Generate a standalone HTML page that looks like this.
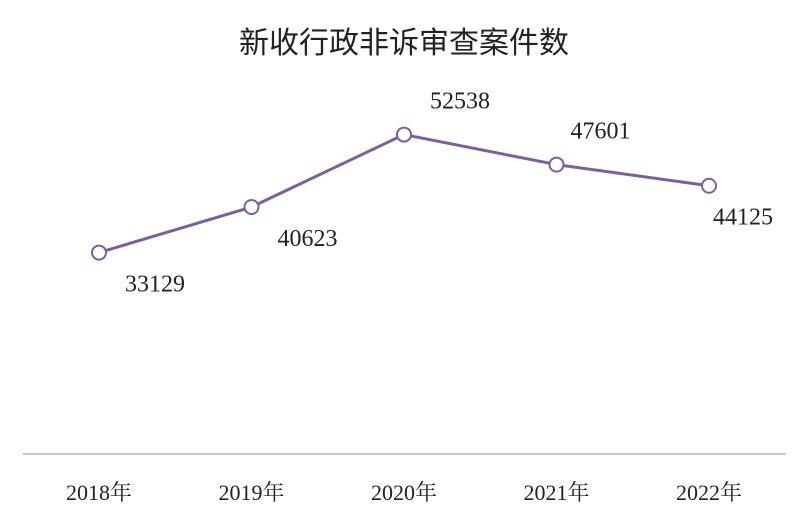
<!DOCTYPE html>
<html><head><meta charset="utf-8"><style>
html,body{margin:0;padding:0;background:#fff;}
svg{display:block;}
</style></head><body>
<svg width="809" height="529" viewBox="0 0 809 529">
<text x="404" y="53" text-anchor="middle" font-family="'Liberation Sans','Noto Sans CJK SC',sans-serif" font-size="30" fill="#222">新收行政非诉审查案件数</text>
<line x1="23" y1="454" x2="786" y2="454" stroke="#a6a6a6" stroke-width="1.2"/>
<g id="plot"></g>
</svg>
<script>
const categories = ["2018年","2019年","2020年","2021年","2022年"];
const values = [33129, 40623, 52538, 47601, 44125];
const labelAbove = [false, false, true, true, false];

const NS = "http://www.w3.org/2000/svg";
const g = document.getElementById("plot");
function xScale(i){ return 99 + i * 152.5; }
function yScale(v){ return 454 - v * 0.006080; }
function mk(tag, attrs){ const e=document.createElementNS(NS,tag); for(const k in attrs) e.setAttribute(k, attrs[k]); g.appendChild(e); return e; }

const pts = values.map((v,i)=>xScale(i)+","+yScale(v)).join(" ");
const line = mk("polyline",{points:pts, fill:"none", stroke:"#7b5fa0", "stroke-width":3, "stroke-linejoin":"round"});



values.forEach((v,i)=>{
  const cx=xScale(i), cy=yScale(v);
  const c = mk("circle",{cx:cx, cy:cy, r:7, fill:"#fff", stroke:"#7b5fa0", "stroke-width":2});
  
  
  const ly = labelAbove[i] ? cy - 26 : cy + 39;
  const dx = i===4 ? 34 : (i===3 ? 44 : 56);
  const t = mk("text",{x:cx+dx, y:ly, "text-anchor":"middle", "font-family":"'Liberation Serif',serif", "font-size":24, fill:"#222"});
  t.textContent = v;
  
  
  const xt = mk("text",{x:cx, y:500, "text-anchor":"middle", "font-family":"'Liberation Serif','Noto Serif CJK SC',serif", "font-size":22, fill:"#222"});
  xt.textContent = categories[i];
  
  
});
</script>
</body></html>
